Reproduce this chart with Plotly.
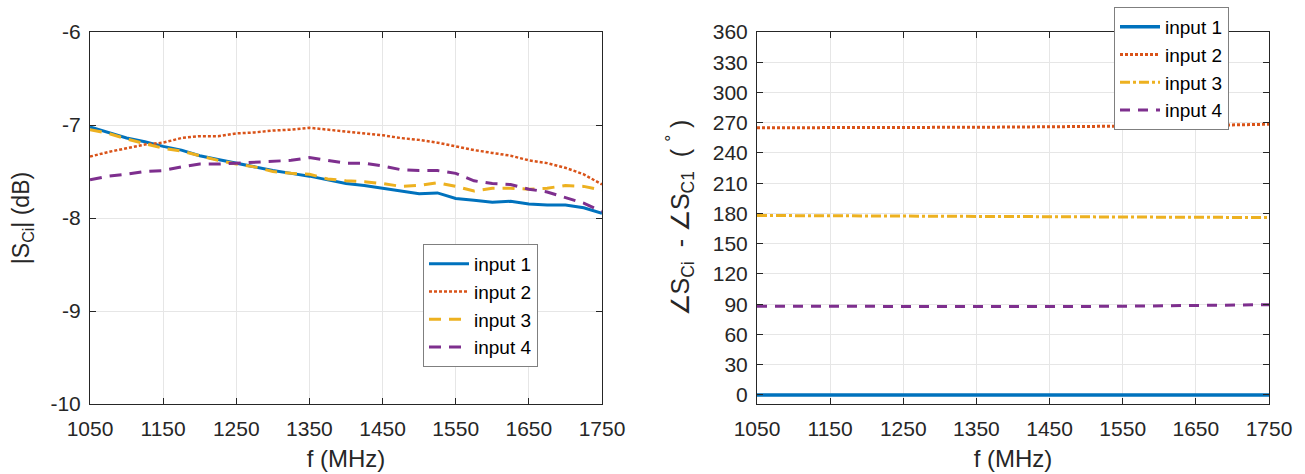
import plotly.graph_objects as go

# ---------------- data ----------------
freq_mag = [1050, 1075, 1100, 1125, 1150, 1175, 1200, 1225, 1250, 1275, 1300, 1325, 1350, 1375,
            1400, 1425, 1450, 1475, 1500, 1525, 1550, 1575, 1600, 1625, 1650, 1675, 1700, 1725, 1750]

mag_in1 = [-7.02, -7.08, -7.14, -7.18, -7.23, -7.27, -7.33, -7.37, -7.41, -7.45, -7.49, -7.52, -7.55, -7.59,
           -7.63, -7.65, -7.68, -7.71, -7.74, -7.73, -7.79, -7.81, -7.83, -7.82, -7.85, -7.86, -7.86, -7.89, -7.95]
mag_in2 = [-7.34, -7.29, -7.25, -7.21, -7.19, -7.14, -7.12, -7.12, -7.09, -7.08, -7.06, -7.05, -7.03, -7.05,
           -7.07, -7.09, -7.11, -7.14, -7.16, -7.19, -7.23, -7.27, -7.30, -7.33, -7.38, -7.41, -7.46, -7.53, -7.64]
mag_in3 = [-7.05, -7.09, -7.15, -7.20, -7.25, -7.28, -7.33, -7.38, -7.42, -7.45, -7.50, -7.52, -7.53, -7.58,
           -7.60, -7.61, -7.63, -7.66, -7.65, -7.62, -7.66, -7.71, -7.68, -7.68, -7.69, -7.68, -7.65, -7.66, -7.70]
mag_in4 = [-7.59, -7.55, -7.53, -7.50, -7.49, -7.45, -7.42, -7.42, -7.41, -7.40, -7.39, -7.38, -7.35, -7.38,
           -7.41, -7.41, -7.44, -7.48, -7.49, -7.49, -7.52, -7.60, -7.63, -7.64, -7.69, -7.72, -7.78, -7.84, -7.93]

freq_ph = [1050, 1150, 1250, 1350, 1450, 1550, 1650, 1750]
ph_in1 = [0, 0, 0, 0, 0, 0, 0, 0]
ph_in2 = [265.0, 265.0, 265.2, 265.5, 266.0, 266.5, 267.2, 268.5]
ph_in3 = [178.0, 177.6, 177.3, 177.0, 176.8, 176.5, 176.2, 176.0]
ph_in4 = [88.0, 87.8, 87.5, 87.4, 87.6, 88.0, 88.6, 89.5]

names = ["input 1", "input 2", "input 3", "input 4"]
x_ticks = [1050, 1150, 1250, 1350, 1450, 1550, 1650, 1750]
mag_ticks = [-10, -9, -8, -7, -6]
mag_ticktext = ["-10", "-9", "-8", "-7", "-6"]
ph_ticks = list(range(0, 361, 30))

# ---------------- style ----------------
FONT = "Liberation Sans, Arial, Helvetica, sans-serif"
C1, C2, C3, C4 = "#0072BD", "#D95319", "#EDB120", "#7E2F8E"
W = 1305
H = 474
NB = "\u00a0"

fig = go.Figure()

left_styles = [
    dict(color=C1, width=3, dash="solid"),
    dict(color=C2, width=2.5, dash="3px,2px"),
    dict(color=C3, width=3, dash="12px,8px"),
    dict(color=C4, width=3, dash="12px,8px"),
]
right_styles = [
    dict(color=C1, width=3.5, dash="solid"),
    dict(color=C2, width=3, dash="3px,2px"),
    dict(color=C3, width=3, dash="10px,3px,3px,3px"),
    dict(color=C4, width=3, dash="10px,8px"),
]

for name, ys, st in zip(names, [mag_in1, mag_in2, mag_in3, mag_in4], left_styles):
    fig.add_trace(go.Scatter(x=freq_mag, y=ys, mode="lines", name=name, line=st,
                             xaxis="x", yaxis="y", legend="legend"))

for name, ys, st in zip(names, [ph_in1, ph_in2, ph_in3, ph_in4], right_styles):
    fig.add_trace(go.Scatter(x=freq_ph, y=ys, mode="lines", name=name, line=st,
                             xaxis="x2", yaxis="y2", legend="legend2"))

ydom = [(H - 404) / H, (H - 32) / H]
common_axis = dict(
    showline=True, linecolor="#262626", linewidth=1, mirror="ticks",
    ticks="inside", ticklen=6, tickcolor="#262626",
    showgrid=True, gridcolor="#e6e6e6", gridwidth=1, zeroline=False,
    tickfont=dict(family=FONT, size=21, color="#262626"),
    automargin=False,
)
XFONT = dict(family=FONT, size=24, color="#262626")
YFONT_L = dict(family=FONT, size=23, color="#262626")
YFONT_R = dict(family=FONT, size=25, color="#262626")

ph_title = ("∠S<sub>Ci</sub>" + NB * 2 + "-" + NB + "∠S<sub>C1</sub>" + NB * 2 +
            "(" + NB + "<sup>°</sup>" + NB + ")")

fig.update_layout(
    width=W, height=H,
    margin=dict(l=0, r=0, t=0, b=0, pad=0, autoexpand=False),
    paper_bgcolor="white", plot_bgcolor="white",
    font=dict(family=FONT, color="#262626"),
    xaxis=dict(domain=[90 / W, 602 / W], range=[1050, 1750], tickvals=x_ticks, ticklabelstandoff=6,
               title=dict(text="f (MHz)", font=XFONT, standoff=10),
               anchor="y", **common_axis),
    yaxis=dict(domain=ydom, range=[-10, -6], tickvals=mag_ticks, ticktext=mag_ticktext,
               ticklabelstandoff=4,
               title=dict(text="|S<sub>Ci</sub>| (dB)", font=YFONT_L, standoff=14),
               anchor="x", **common_axis),
    xaxis2=dict(domain=[757 / W, 1269 / W], range=[1050, 1750], tickvals=x_ticks, ticklabelstandoff=6,
                title=dict(text="f (MHz)", font=XFONT, standoff=10),
                anchor="y2", **common_axis),
    yaxis2=dict(domain=ydom, range=[-9, 360], tickvals=ph_ticks, ticklabelstandoff=4,
                title=dict(text=ph_title, font=YFONT_R, standoff=16),
                anchor="x2", **common_axis),
    legend=dict(x=423 / W, y=(H - 244) / H, xanchor="left", yanchor="top",
                bgcolor="white", bordercolor="#7f7f7f", borderwidth=1,
                font=dict(family=FONT, size=19, color="#000000"), itemwidth=40),
    legend2=dict(x=1114 / W, y=(H - 7) / H, xanchor="left", yanchor="top",
                 bgcolor="white", bordercolor="#7f7f7f", borderwidth=1,
                 font=dict(family=FONT, size=19, color="#000000"), itemwidth=40),
    showlegend=True,
)

fig.write_html("out.html")
